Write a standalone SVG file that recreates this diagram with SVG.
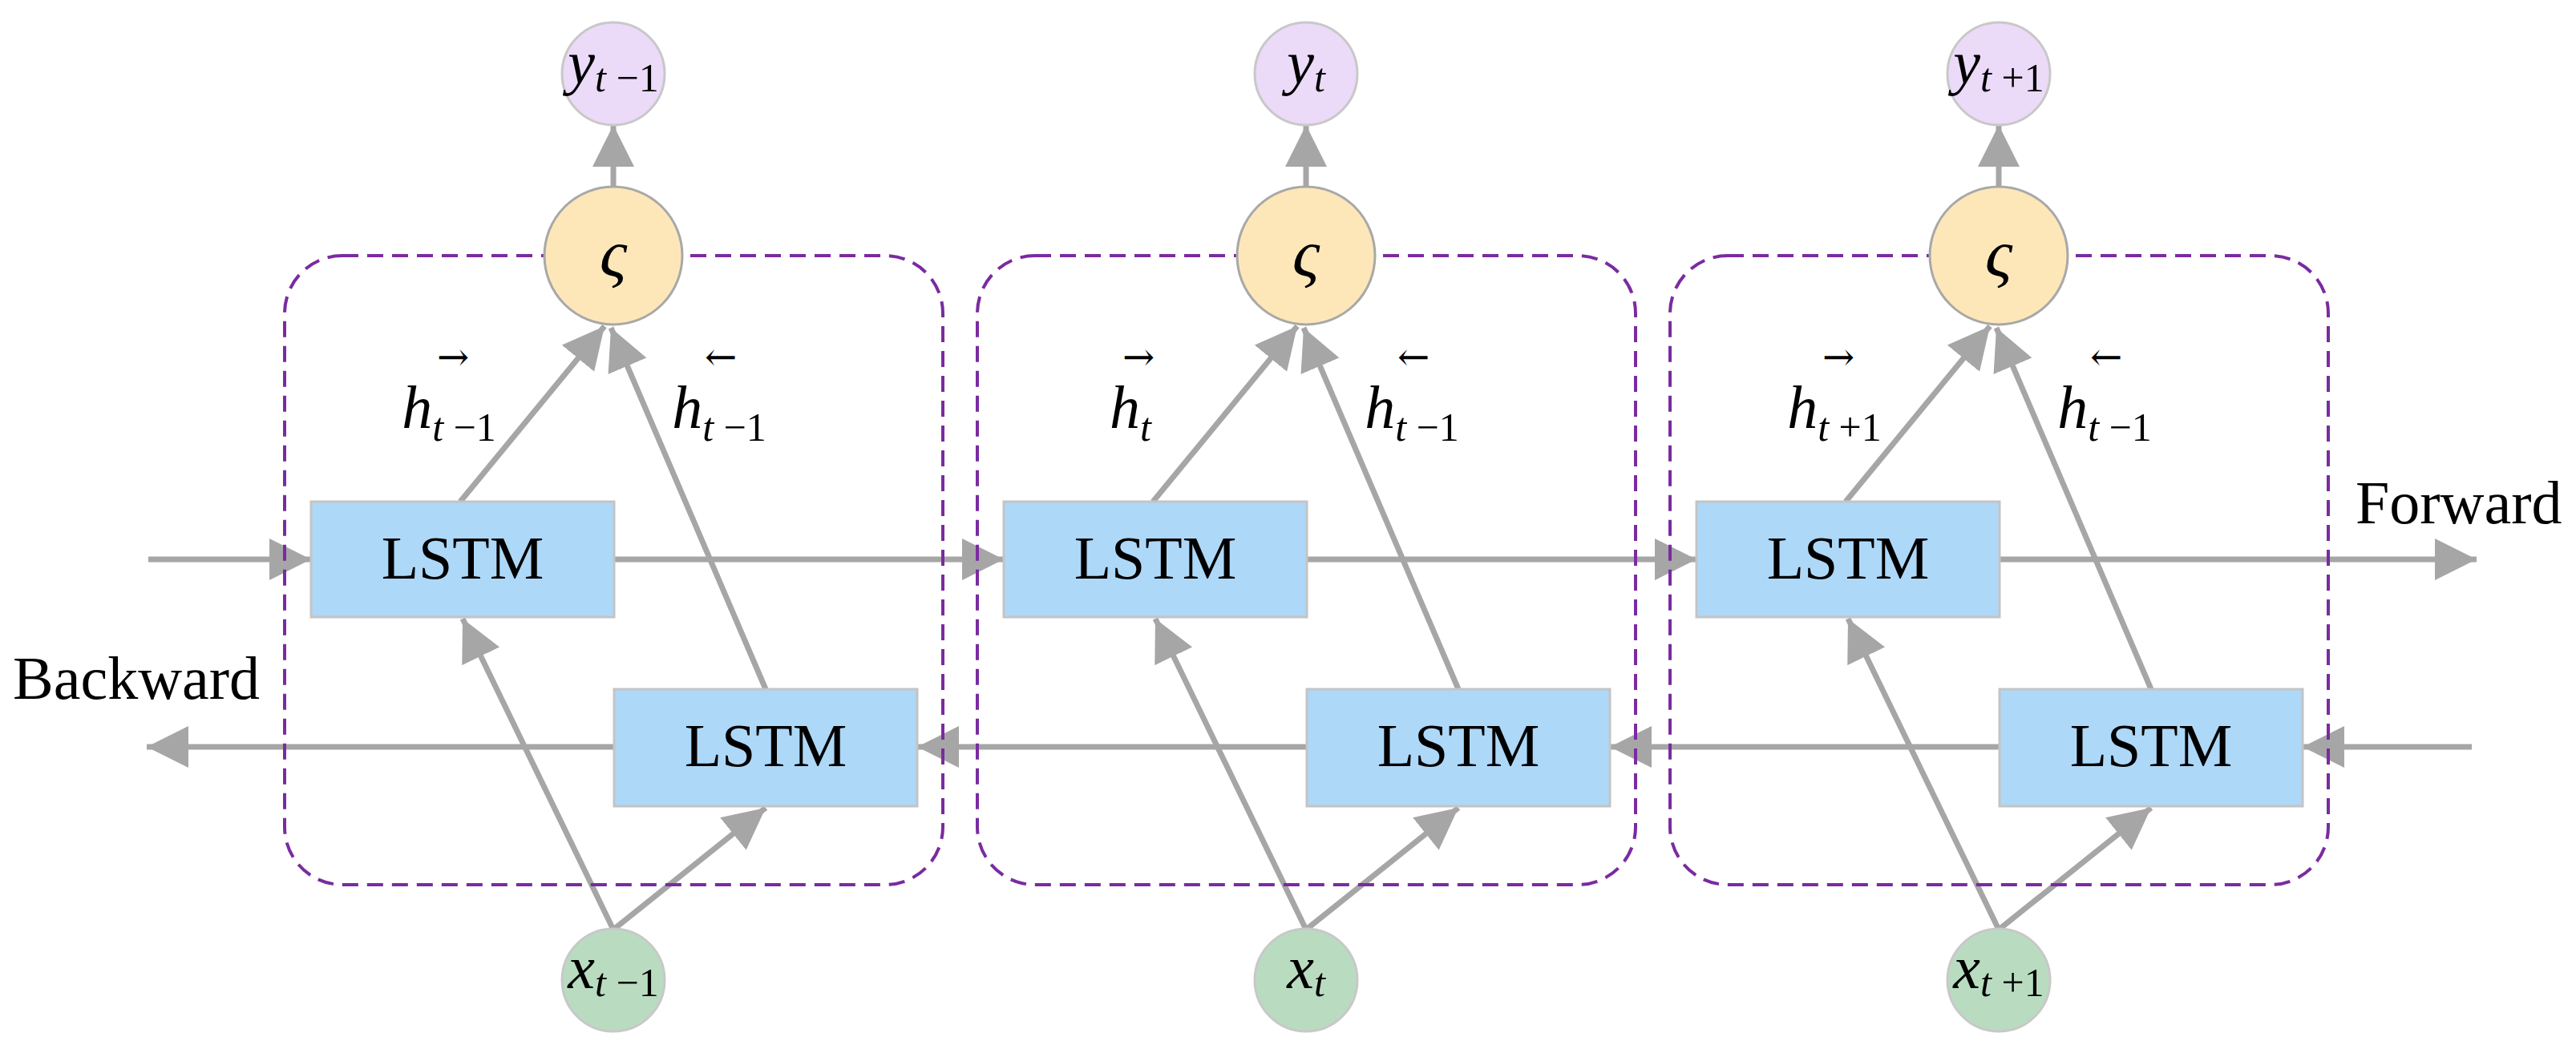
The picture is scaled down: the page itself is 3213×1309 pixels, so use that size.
<svg xmlns="http://www.w3.org/2000/svg" width="3213" height="1309" viewBox="0 0 3213 1309">
<defs>
<marker id="ah" markerUnits="userSpaceOnUse" markerWidth="60" markerHeight="60" refX="52" refY="26" orient="auto"><polygon points="0,0 52,26 0,52" fill="#a6a6a6"/></marker>
<style>
.c{stroke:#a6a6a6;stroke-width:7;fill:none;marker-end:url(#ah)}
.box{fill:none;stroke:#7a2ba0;stroke-width:4;stroke-dasharray:20 11}
.l{fill:#aed8f8;stroke:#c4c4c4;stroke-width:3}
.t{font-family:"Liberation Serif",serif;fill:#000}
.a{font-family:"DejaVu Serif",serif;fill:#000}
.i{font-style:italic}
.y{fill:#ecdaf9;stroke:#c8c8c8;stroke-width:3}
.x{fill:#b9dcc1;stroke:#c8c8c8;stroke-width:3}
.s{fill:#fde7b9;stroke:#a8a8a8;stroke-width:3}
</style>
</defs>
<g id="connectors">
<line class="c" x1="185" y1="698" x2="388" y2="698"/>
<line class="c" x1="765" y1="698" x2="1252" y2="698"/>
<line class="c" x1="1629" y1="698" x2="2116" y2="698"/>
<line class="c" x1="2493" y1="698" x2="3089" y2="698"/>
<line class="c" x1="3083" y1="932" x2="2872" y2="932"/>
<line class="c" x1="2493" y1="932" x2="2008" y2="932"/>
<line class="c" x1="1629" y1="932" x2="1144" y2="932"/>
<line class="c" x1="765" y1="932" x2="183" y2="932"/>
<g id="c1a">
<line class="c" x1="765" y1="233" x2="765" y2="156"/>
<line class="c" x1="574" y1="626" x2="754" y2="407"/>
<line class="c" x1="955" y1="860" x2="762" y2="409"/>
<line class="c" x1="765" y1="1160" x2="577" y2="772"/>
<line class="c" x1="765" y1="1160" x2="955" y2="1008"/>
</g>
<g id="c2a">
<line class="c" x1="1629" y1="233" x2="1629" y2="156"/>
<line class="c" x1="1438" y1="626" x2="1618" y2="407"/>
<line class="c" x1="1819" y1="860" x2="1626" y2="409"/>
<line class="c" x1="1629" y1="1160" x2="1441" y2="772"/>
<line class="c" x1="1629" y1="1160" x2="1819" y2="1008"/>
</g>
<g id="c3a">
<line class="c" x1="2493" y1="233" x2="2493" y2="156"/>
<line class="c" x1="2302" y1="626" x2="2482" y2="407"/>
<line class="c" x1="2683" y1="860" x2="2490" y2="409"/>
<line class="c" x1="2493" y1="1160" x2="2305" y2="772"/>
<line class="c" x1="2493" y1="1160" x2="2683" y2="1008"/>
</g>
</g>
<g id="cell1">
<rect class="box" x="355" y="319" width="821" height="785" rx="72"/>
<circle class="s" cx="765" cy="319" r="86"/>
<text class="t i" x="765" y="345" font-size="84" text-anchor="middle">ς</text>
<circle class="y" cx="765" cy="92" r="64"/>
<text class="t" x="765" y="104" font-size="76" text-anchor="middle"><tspan class="i">y</tspan><tspan font-size="50" dy="10"><tspan class="i">t</tspan> −1</tspan></text>
<circle class="x" cx="765" cy="1223" r="64"/>
<text class="t" x="765" y="1233" font-size="76" text-anchor="middle"><tspan class="i">x</tspan><tspan font-size="50" dy="10"><tspan class="i">t</tspan> −1</tspan></text>
<rect class="l" x="388" y="626" width="378" height="144"/>
<text class="t" x="577" y="722" font-size="76" text-anchor="middle">LSTM</text>
<rect class="l" x="766" y="860" width="378" height="146"/>
<text class="t" x="955" y="956" font-size="76" text-anchor="middle">LSTM</text>
<text class="t" x="560" y="534" font-size="76" text-anchor="middle"><tspan class="i">h</tspan><tspan font-size="50" dy="16"><tspan class="i">t</tspan> −1</tspan></text>
<text class="a" x="565" y="462" font-size="48" text-anchor="middle">→</text>
<text class="t" x="897" y="534" font-size="76" text-anchor="middle"><tspan class="i">h</tspan><tspan font-size="50" dy="16"><tspan class="i">t</tspan> −1</tspan></text>
<text class="a" x="899" y="462" font-size="48" text-anchor="middle">←</text>
</g>
<g id="cell2">
<rect class="box" x="1219" y="319" width="821" height="785" rx="72"/>
<circle class="s" cx="1629" cy="319" r="86"/>
<text class="t i" x="1629" y="345" font-size="84" text-anchor="middle">ς</text>
<circle class="y" cx="1629" cy="92" r="64"/>
<text class="t" x="1629" y="104" font-size="76" text-anchor="middle"><tspan class="i">y</tspan><tspan class="i" font-size="50" dy="10">t</tspan></text>
<circle class="x" cx="1629" cy="1223" r="64"/>
<text class="t" x="1629" y="1233" font-size="76" text-anchor="middle"><tspan class="i">x</tspan><tspan class="i" font-size="50" dy="10">t</tspan></text>
<rect class="l" x="1252" y="626" width="378" height="144"/>
<text class="t" x="1441" y="722" font-size="76" text-anchor="middle">LSTM</text>
<rect class="l" x="1630" y="860" width="378" height="146"/>
<text class="t" x="1819" y="956" font-size="76" text-anchor="middle">LSTM</text>
<text class="t" x="1410" y="534" font-size="76" text-anchor="middle"><tspan class="i">h</tspan><tspan class="i" font-size="50" dy="16">t</tspan></text>
<text class="a" x="1420" y="462" font-size="48" text-anchor="middle">→</text>
<text class="t" x="1761" y="534" font-size="76" text-anchor="middle"><tspan class="i">h</tspan><tspan font-size="50" dy="16"><tspan class="i">t</tspan> −1</tspan></text>
<text class="a" x="1763" y="462" font-size="48" text-anchor="middle">←</text>
</g>
<g id="cell3">
<rect class="box" x="2083" y="319" width="821" height="785" rx="72"/>
<circle class="s" cx="2493" cy="319" r="86"/>
<text class="t i" x="2493" y="345" font-size="84" text-anchor="middle">ς</text>
<circle class="y" cx="2493" cy="92" r="64"/>
<text class="t" x="2493" y="104" font-size="76" text-anchor="middle"><tspan class="i">y</tspan><tspan font-size="50" dy="10"><tspan class="i">t</tspan> +1</tspan></text>
<circle class="x" cx="2493" cy="1223" r="64"/>
<text class="t" x="2493" y="1233" font-size="76" text-anchor="middle"><tspan class="i">x</tspan><tspan font-size="50" dy="10"><tspan class="i">t</tspan> +1</tspan></text>
<rect class="l" x="2116" y="626" width="378" height="144"/>
<text class="t" x="2305" y="722" font-size="76" text-anchor="middle">LSTM</text>
<rect class="l" x="2494" y="860" width="378" height="146"/>
<text class="t" x="2683" y="956" font-size="76" text-anchor="middle">LSTM</text>
<text class="t" x="2288" y="534" font-size="76" text-anchor="middle"><tspan class="i">h</tspan><tspan font-size="50" dy="16"><tspan class="i">t</tspan> +1</tspan></text>
<text class="a" x="2293" y="462" font-size="48" text-anchor="middle">→</text>
<text class="t" x="2625" y="534" font-size="76" text-anchor="middle"><tspan class="i">h</tspan><tspan font-size="50" dy="16"><tspan class="i">t</tspan> −1</tspan></text>
<text class="a" x="2627" y="462" font-size="48" text-anchor="middle">←</text>
</g>
<g id="labels">
<text class="t" x="16" y="872" font-size="76">Backward</text>
<text class="t" x="2938" y="653" font-size="76">Forward</text>
</g>
</svg>
